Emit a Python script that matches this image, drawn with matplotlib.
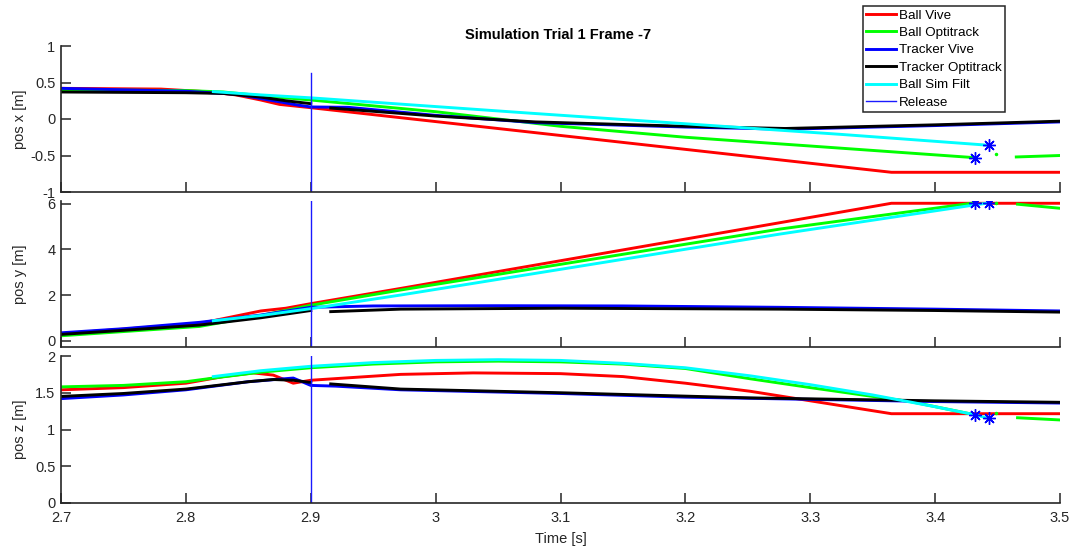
import numpy as np
import matplotlib
matplotlib.use("Agg")
import matplotlib.pyplot as plt

plt.rcParams['font.family'] = ['Liberation Sans', 'DejaVu Sans']

nan = np.nan

# ---- pos x ----
t_red_x = [2.70, 2.78, 2.82, 2.84, 2.86, 2.875, 2.90, 3.365, 3.50]
red_x = [0.42, 0.41, 0.37, 0.33, 0.26, 0.20, 0.155, -0.73, -0.73]

t_green_x = [2.70, 2.80, 2.83, 2.86, 2.90, 3.00, 3.10, 3.20, 3.30, 3.432, nan, 3.465, 3.50]
green_x = [0.40, 0.39, 0.37, 0.32, 0.26, 0.10, -0.10, -0.25, -0.37, -0.53, nan, -0.52, -0.50]

t_blue_x = [2.70, 2.80, 2.84, 2.87, 2.89, 2.90, 2.93, 3.00, 3.08, 3.20, 3.28, 3.40, 3.50]
blue_x = [0.42, 0.38, 0.34, 0.25, 0.19, 0.165, 0.16, 0.05, -0.05, -0.11, -0.14, -0.09, -0.04]

t_black_x = [2.70, 2.80, 2.83, 2.86, 2.88, 2.90, nan, 2.916, 3.00, 3.08, 3.20, 3.28, 3.40, 3.50]
black_x = [0.37, 0.36, 0.35, 0.30, 0.25, 0.21, nan, 0.15, 0.04, -0.04, -0.10, -0.13, -0.08, -0.03]

t_cyan_x = [2.822, 2.86, 2.90, 3.0755, 3.324, 3.443]
cyan_x = [0.375, 0.33, 0.29, 0.08, -0.21, -0.36]

# ---- pos y ----
t_red_y = [2.70, 2.811, 2.86, 2.88, 2.90, 2.972, 3.276, 3.365, 3.50]
red_y = [0.30, 0.75, 1.30, 1.42, 1.62, 2.29, 5.18, 6.03, 6.03]

t_green_y = [2.70, 2.811, 2.86, 2.90, 2.972, 3.276, 3.432, nan, 3.466, 3.50]
green_y = [0.21, 0.62, 1.10, 1.55, 2.22, 4.90, 6.05, nan, 5.99, 5.81]

t_blue_y = [2.70, 2.75, 2.811, 2.86, 2.90, 2.95, 3.05, 3.15, 3.276, 3.40, 3.50]
blue_y = [0.34, 0.52, 0.80, 1.12, 1.46, 1.52, 1.53, 1.52, 1.46, 1.38, 1.30]

t_black_y = [2.70, 2.75, 2.811, 2.86, 2.90, nan, 2.916, 2.972, 3.10, 3.276, 3.40, 3.50]
black_y = [0.27, 0.45, 0.68, 1.00, 1.32, nan, 1.27, 1.38, 1.42, 1.38, 1.32, 1.25]

t_cyan_y = [2.822, 2.86, 2.90, 2.972, 3.276, 3.443]
cyan_y = [0.87, 1.10, 1.40, 2.00, 4.68, 6.05]

# ---- pos z ----
t_red_z = [2.70, 2.75, 2.80, 2.83, 2.854, 2.87, 2.886, 2.90, 2.972, 3.03, 3.10, 3.15, 3.20, 3.252, 3.365, 3.50]
red_z = [1.54, 1.57, 1.63, 1.72, 1.77, 1.74, 1.63, 1.67, 1.75, 1.77, 1.76, 1.72, 1.63, 1.52, 1.215, 1.215]

t_green_z = [2.70, 2.75, 2.80, 2.822, 2.86, 2.90, 2.95, 3.00, 3.05, 3.10, 3.15, 3.20, 3.252, 3.30, 3.35, 3.38, 3.432,
             nan, 3.466, 3.50]
green_z = [1.58, 1.60, 1.65, 1.70, 1.78, 1.84, 1.89, 1.92, 1.93, 1.92, 1.89, 1.83, 1.69, 1.57, 1.45, 1.38, 1.20,
           nan, 1.16, 1.13]

t_blue_z = [2.70, 2.75, 2.80, 2.85, 2.886, 2.90, 2.92, 2.972, 3.10, 3.20, 3.30, 3.40, 3.50]
blue_z = [1.42, 1.47, 1.54, 1.65, 1.70, 1.60, 1.59, 1.54, 1.49, 1.44, 1.41, 1.38, 1.36]

t_black_z = [2.70, 2.75, 2.80, 2.85, 2.87, 2.886, 2.90, nan, 2.916, 2.972, 3.10, 3.252, 3.40, 3.50]
black_z = [1.45, 1.49, 1.55, 1.65, 1.68, 1.67, 1.64, nan, 1.62, 1.55, 1.50, 1.43, 1.39, 1.37]

t_cyan_z = [2.822, 2.86, 2.90, 2.95, 3.00, 3.05, 3.10, 3.15, 3.20, 3.252, 3.30, 3.35, 3.40, 3.432, 3.443]
cyan_z = [1.72, 1.80, 1.86, 1.91, 1.94, 1.95, 1.94, 1.90, 1.84, 1.73, 1.61, 1.47, 1.31, 1.20, 1.15]

# end points (asterisks) and stray green sample
t_stars = [3.432, 3.443]
stars_x = [-0.53, -0.36]
stars_y = [6.05, 6.05]
stars_z = [1.20, 1.15]
t_dot = [3.449]
dot_x = [-0.48]
dot_y = [6.03]
dot_z = [1.22]

t_release = 2.9
release_span = [(-1, 0.63), (-0.27, 6.13), (0, 2)]

ylabels = ['pos x [m]', 'pos y [m]', 'pos z [m]']
ylims = [(-1, 1), (-0.27, 6.13), (0, 2)]
yticks = [[-1, -0.5, 0, 0.5, 1], [0, 2, 4, 6], [0, 0.5, 1, 1.5, 2]]
ytick_labels = [['-1', '-0.5', '0', '0.5', '1'], ['0', '2', '4', '6'], ['0', '0.5', '1', '1.5', '2']]
xticks = [2.7, 2.8, 2.9, 3.0, 3.1, 3.2, 3.3, 3.4, 3.5]
xtick_labels = ['2.7', '2.8', '2.9', '3', '3.1', '3.2', '3.3', '3.4', '3.5']

panels = [
    (t_red_x, red_x, t_green_x, green_x, t_blue_x, blue_x, t_black_x, black_x, t_cyan_x, cyan_x, stars_x, dot_x),
    (t_red_y, red_y, t_green_y, green_y, t_blue_y, blue_y, t_black_y, black_y, t_cyan_y, cyan_y, stars_y, dot_y),
    (t_red_z, red_z, t_green_z, green_z, t_blue_z, blue_z, t_black_z, black_z, t_cyan_z, cyan_z, stars_z, dot_z),
]

W, H = 1072, 549
fig = plt.figure(figsize=(W / 100, H / 100), dpi=100)
# axes boxes in pixels: (top, bottom)
boxes = [(46, 192), (201, 346.7), (356, 503)]
left, right = 61, 1060
dark = '#262626'

handles = None
for i, (box, data) in enumerate(zip(boxes, panels)):
    top, bot = box
    ax = fig.add_axes([left / W, 1 - bot / H, (right - left) / W, (bot - top) / H])
    tr, r, tg, g, tb, b, tk, k, tc, c, st, dt = data
    h1, = ax.plot(tr, r, color=(1, 0, 0), lw=2.1, label='Ball Vive')
    h2, = ax.plot(tg, g, color=(0, 1, 0), lw=2.1, label='Ball Optitrack')
    h3, = ax.plot(tb, b, color=(0, 0, 1), lw=2.1, label='Tracker Vive')
    h4, = ax.plot(tk, k, color='black', lw=2.1, label='Tracker Optitrack')
    h5, = ax.plot(tc, c, color=(0, 1, 1), lw=2.1, label='Ball Sim Filt')
    lo, hi = release_span[i]
    h6, = ax.plot([t_release, t_release], [lo, hi], color=(0.1, 0.1, 1), lw=1.0, label='Release')
    ax.plot(t_stars, st, linestyle='none', marker=(8, 2, 0), ms=9, mew=1.0, color=(0, 0, 1))
    ax.plot(t_dot, dt, linestyle='none', marker='o', ms=1.5, color=(0, 1, 0))
    if handles is None:
        handles = [h1, h2, h3, h4, h5, h6]

    ax.set_xlim(2.7, 3.5)
    ax.set_ylim(*ylims[i])
    ax.set_yticks(yticks[i])
    ax.set_yticklabels(ytick_labels[i])
    ax.set_xticks(xticks)
    if i == 2:
        ax.set_xticklabels(xtick_labels)
        ax.set_xlabel('Time [s]', fontsize=10.5, color=dark)
        ax.xaxis.set_label_coords(0.5, -0.20)
    else:
        ax.set_xticklabels([])
    ax.set_ylabel(ylabels[i], fontsize=10.5, color=dark)
    ax.yaxis.set_label_coords(-0.034, 0.5)
    for s in ['top', 'right']:
        ax.spines[s].set_visible(False)
    for s in ['left', 'bottom']:
        ax.spines[s].set_color(dark)
        ax.spines[s].set_linewidth(1.2)
    ax.tick_params(direction='in', length=7.5, width=1.1, color=dark, labelcolor=dark,
                   labelsize=10.5, pad=4)
    ax.tick_params(axis='x', pad=6)
    ax.patch.set_alpha(0)

fig.text(0.5205, 1 - 35 / H, 'Simulation Trial 1 Frame -7', ha='center', va='center',
         fontsize=10.5, fontweight='bold', color='black')

leg = fig.legend(handles=handles, loc='upper left', bbox_to_anchor=(863 / W, 1 - 6 / H),
                 borderaxespad=0, fontsize=9.6, frameon=True, fancybox=False,
                 handlelength=2.2, handletextpad=0.25, labelspacing=0.38, borderpad=0.25,
                 framealpha=1)
leg.get_frame().set_edgecolor(dark)
leg.get_frame().set_linewidth(1.1)

fig.savefig('out.png', dpi=100)
